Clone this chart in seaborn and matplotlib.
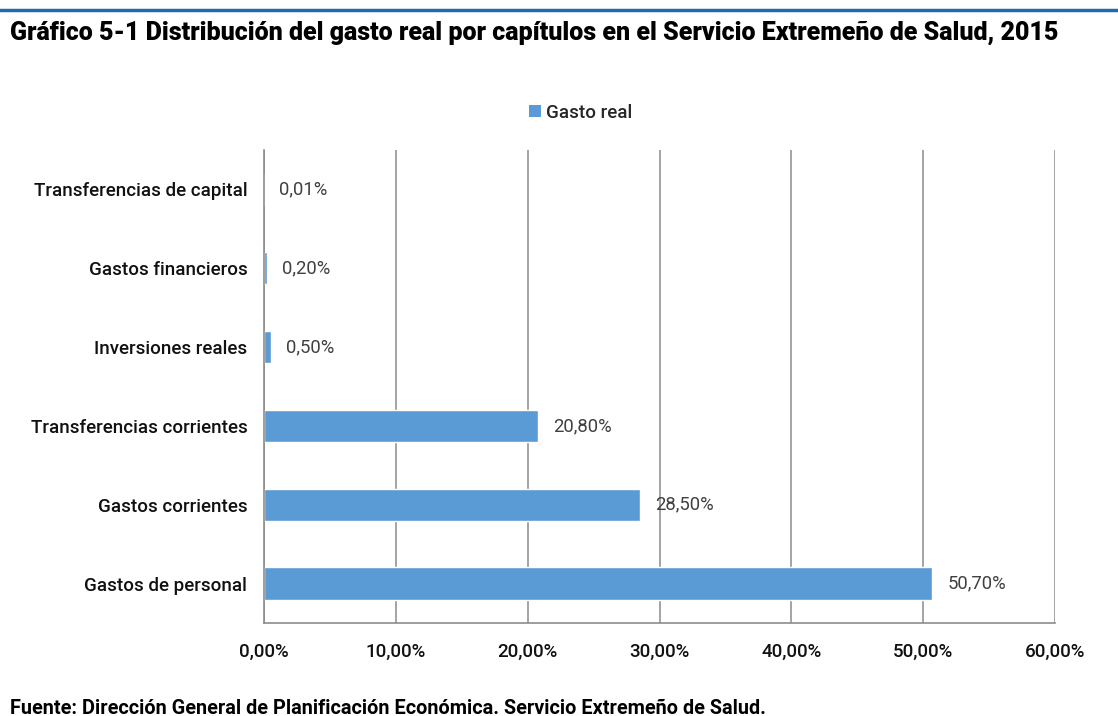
import matplotlib
matplotlib.use("Agg")
import matplotlib.pyplot as plt
import seaborn as sns
import pandas as pd
from matplotlib.lines import Line2D
from matplotlib.patches import Patch

categories = ["Transferencias de capital", "Gastos financieros", "Inversiones reales",
              "Transferencias corrientes", "Gastos corrientes", "Gastos de personal"]
values = [0.01, 0.20, 0.50, 20.80, 28.50, 50.70]
xticks = [0, 10, 20, 30, 40, 50, 60]
title = "Gráfico 5-1 Distribución del gasto real por capítulos en el Servicio Extremeño de Salud, 2015"
source = "Fuente: Dirección General de Planificación Económica. Servicio Extremeño de Salud."
series_name = "Gasto real"

sns.set_theme(style="white")
plt.rcParams['font.family'] = ['Roboto', 'Liberation Sans', 'DejaVu Sans']

df = pd.DataFrame({"cat": categories, "val": values})

fig = plt.figure(figsize=(11.18, 7.16), dpi=100)
ax = fig.add_axes([264/1118, 1-623/716, (1055-264)/1118, (623-150)/716])

sns.barplot(data=df, y="cat", x="val", order=categories, color="#5B9BD5",
            saturation=1, width=0.41, ax=ax, orient="h")

ax.set_xlim(0, 60)
ax.set_xticks(xticks)
ax.set_xticklabels([f"{t:.2f}%".replace(".", ",") for t in xticks],
                   fontsize=13.5, color="#111111", fontweight="medium")
ax.tick_params(axis="x", length=0, pad=14)
ax.tick_params(axis="y", length=0, pad=12)
for lab in ax.get_yticklabels():
    lab.set_fontsize(13.5)
    lab.set_fontweight("medium")
    lab.set_color("#111111")
ax.set_xlabel("")
ax.set_ylabel("")
ax.grid(axis="x", color="#8c8c8c", linewidth=1.1)
ax.grid(axis="y", visible=False)
ax.set_axisbelow(True)
for s in ["top", "right"]:
    ax.spines[s].set_visible(False)
for s in ["left", "bottom"]:
    ax.spines[s].set_color("#8c8c8c")
    ax.spines[s].set_linewidth(1.2)

for cont in ax.containers:
    ax.bar_label(cont, labels=[f"{v:.2f}%".replace(".", ",") for v in values],
                 padding=11, fontsize=13.3, color="#404040", fontweight="normal")

handles = [Patch(facecolor="#5B9BD5", edgecolor="none", label=series_name)]
fig.legend(handles=handles, loc="center", bbox_to_anchor=(581/1118, 1-113/716),
           frameon=False, handlelength=0.6, handleheight=0.6,
           handletextpad=0.3, prop={"weight": "medium", "size": 13.5})

fig.add_artist(Line2D([0, 1], [1-10/716, 1-10/716], transform=fig.transFigure,
                      color="#1F69AE", linewidth=2.5))
fig.text(10/1118, 1-33/716, title, fontsize=18, fontweight="black",
         va="center", ha="left", color="#000000")
fig.text(10/1118, 1-708/716, source, fontsize=14.3, fontweight="bold",
         va="center", ha="left", color="#000000")

fig.savefig("out.png", dpi=100)
